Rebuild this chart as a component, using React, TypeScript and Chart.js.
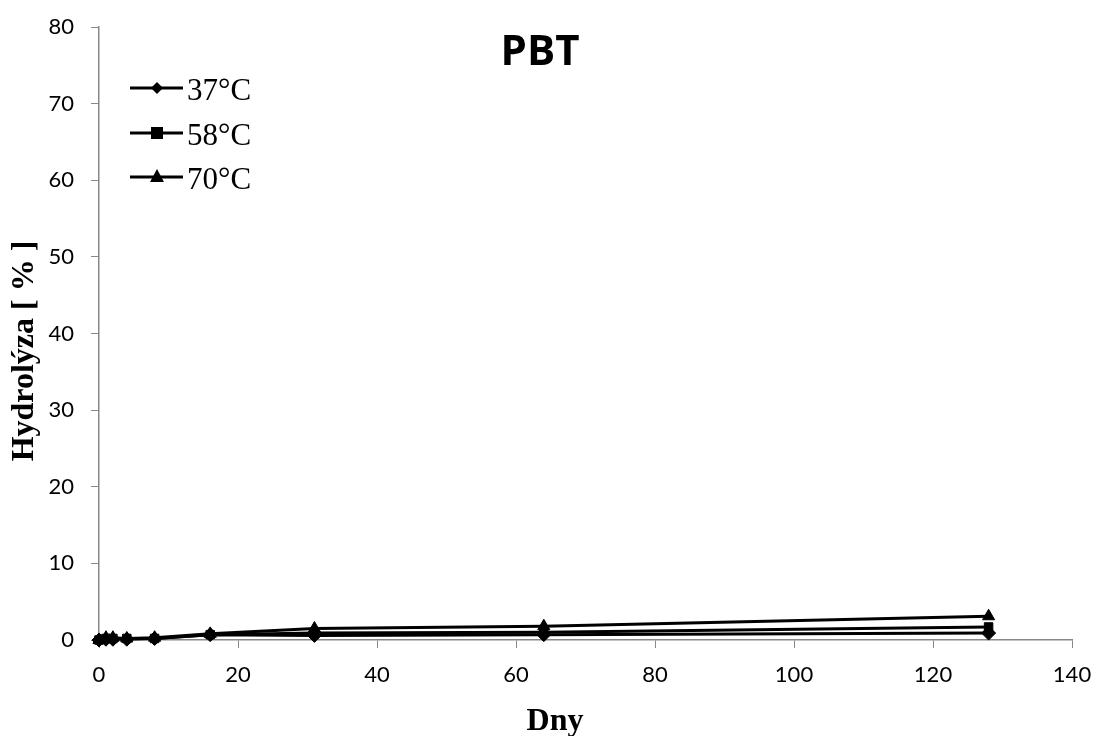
import React, { useEffect, useRef } from "react";
import { Chart, registerables } from "chart.js";

Chart.register(...registerables);

const days = [0, 1, 2, 4, 8, 16, 31, 64, 128];
const series37 = [0, 0.1, 0.1, 0.1, 0.2, 0.7, 0.6, 0.7, 0.9];
const series58 = [0, 0.2, 0.2, 0.2, 0.2, 0.7, 0.9, 1.0, 1.7];
const series70 = [0, 0.3, 0.3, 0.2, 0.3, 0.8, 1.5, 1.8, 3.1];
const seriesLabels = ["37°C", "58°C", "70°C"];
const pointStyles = ["rectRot", "rect", "triangle"];
const chartTitle = "PBT";
const xTitle = "Dny";
const yTitle = "Hydrolýza [ % ]";

const toPoints = (ys: number[]) => days.map((d, i) => ({ x: d, y: ys[i] }));

export default function App() {
  const ref = useRef<HTMLCanvasElement | null>(null);
  useEffect(() => {
    if (!ref.current) return;
    const all = [series37, series58, series70];
    const radii = [7, 6, 7];
    const overlay = {
      id: "overlay",
      afterDraw(chart: any) {
        const ctx = chart.ctx;
        ctx.save();
        ctx.fillStyle = "#000";
        ctx.textAlign = "center";
        ctx.textBaseline = "alphabetic";
        ctx.font = "bold 42px 'Open Sans', Lato, sans-serif";
        ctx.fillText(chartTitle, 540, 65);
        ctx.font = "bold 32px 'Liberation Serif', 'Times New Roman', serif";
        ctx.fillText(xTitle, 555, 730);
        ctx.save();
        ctx.translate(33, 351);
        ctx.rotate(-Math.PI / 2);
        ctx.fillText(yTitle, 0, 0);
        ctx.restore();
        // legend
        const rows = [88, 133, 177];
        rows.forEach((y, i) => {
          ctx.strokeStyle = "#000";
          ctx.lineWidth = 3;
          ctx.beginPath();
          ctx.moveTo(130, y);
          ctx.lineTo(183, y);
          ctx.stroke();
          ctx.fillStyle = "#000";
          const cx = 157;
          if (i === 0) {
            ctx.beginPath();
            ctx.moveTo(cx, y - 6);
            ctx.lineTo(cx + 6, y);
            ctx.lineTo(cx, y + 6);
            ctx.lineTo(cx - 6, y);
            ctx.closePath();
            ctx.fill();
          } else if (i === 1) {
            ctx.fillRect(cx - 6, y - 6, 12, 12);
          } else {
            ctx.beginPath();
            ctx.moveTo(cx, y - 8);
            ctx.lineTo(cx + 7, y + 5);
            ctx.lineTo(cx - 7, y + 5);
            ctx.closePath();
            ctx.fill();
          }
          ctx.font = "31px 'Liberation Serif', 'Times New Roman', serif";
          ctx.textAlign = "left";
          ctx.fillText(seriesLabels[i], 187, y + 12);
        });
        ctx.restore();
      },
    };
    const chart = new Chart(ref.current, {
      type: "scatter",
      data: {
        datasets: all.map((ys, i) => ({
          label: seriesLabels[i],
          data: toPoints(ys),
          showLine: true,
          clip: false as any,
          borderColor: "#000",
          backgroundColor: "#000",
          borderWidth: 3,
          pointStyle: pointStyles[i] as any,
          pointRadius: radii[i],
          pointBorderWidth: 1,
        })),
      },
      options: {
        animation: false,
        responsive: false,
        maintainAspectRatio: false,
        layout: { padding: { top: 27, right: 25, left: 0, bottom: 0 } },
        plugins: {
          legend: { display: false },
          title: { display: false },
          tooltip: { enabled: false },
        },
        scales: {
          x: {
            type: "linear",
            min: 0,
            max: 140,
            afterFit: (s: any) => {
              s.height = 96;
              s.paddingLeft = 0;
              s.paddingRight = 0;
            },
            ticks: {
              stepSize: 20,
              color: "#000",
              padding: 14,
              font: { family: "Lato, 'Open Sans', sans-serif", size: 22 },
            },
            grid: {
              drawOnChartArea: false,
              drawTicks: true,
              tickLength: 8,
              color: "#888",
              tickColor: "#888",
            },
            border: { color: "#888", width: 1.5 },
          },
          y: {
            type: "linear",
            min: 0,
            max: 80,
            afterFit: (s: any) => {
              s.width = 99;
              s.paddingTop = 0;
              s.paddingBottom = 0;
            },
            ticks: {
              stepSize: 10,
              color: "#000",
              padding: 17,
              font: { family: "Lato, 'Open Sans', sans-serif", size: 22 },
            },
            grid: {
              drawOnChartArea: false,
              drawTicks: true,
              tickLength: 8,
              color: "#888",
              tickColor: "#888",
            },
            border: { color: "#888", width: 1.5 },
          },
        },
      },
      plugins: [overlay],
    });
    return () => chart.destroy();
  }, []);
  return (
    <div style={{ position: "fixed", left: 0, top: 0, width: 1097, height: 736, background: "#fff" }}>
      <canvas ref={ref} width={1097} height={736} style={{ width: 1097, height: 736 }} />
    </div>
  );
}
